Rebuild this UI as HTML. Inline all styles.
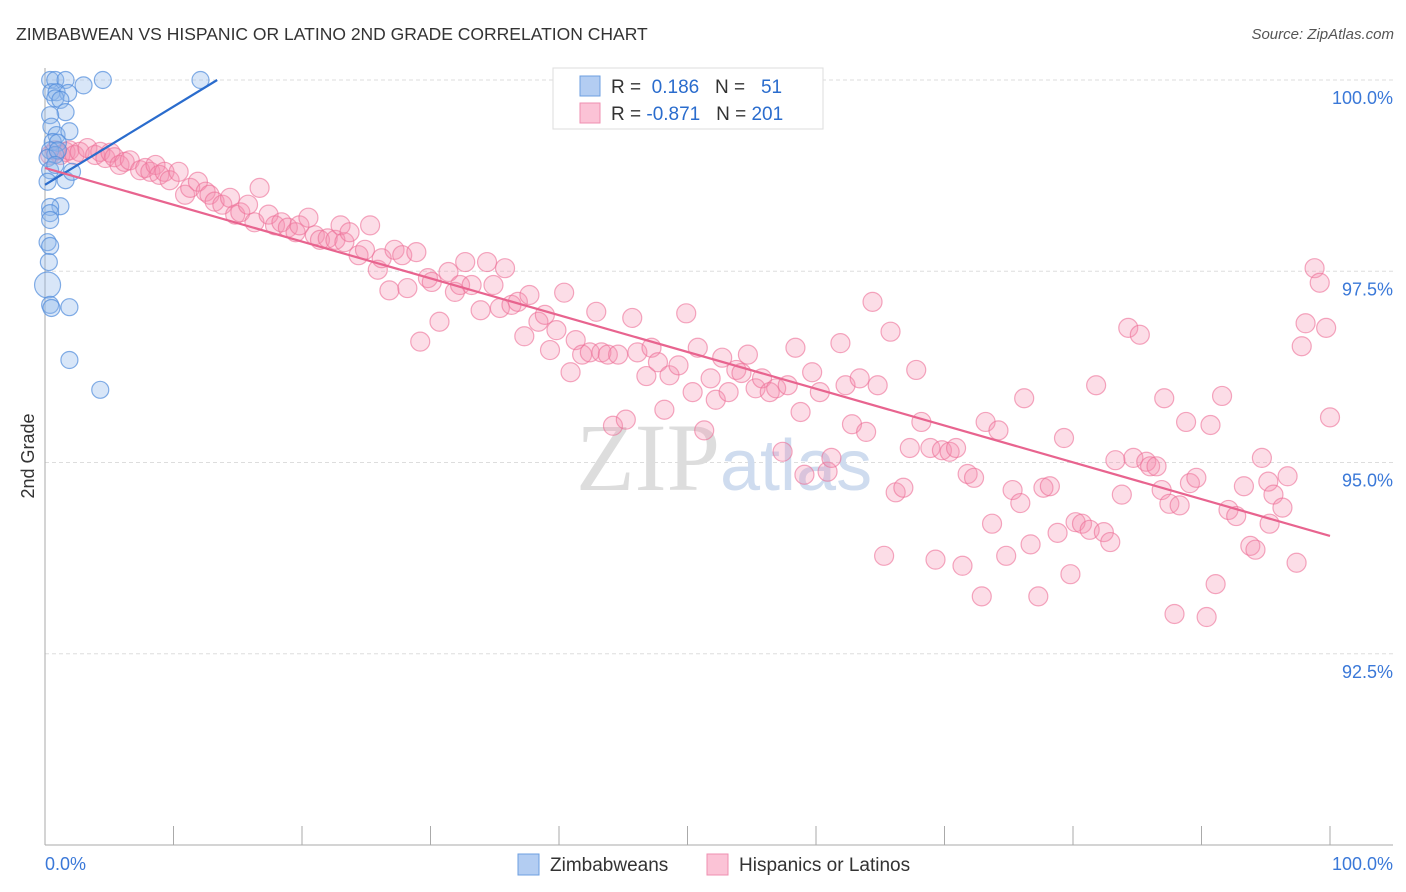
<!DOCTYPE html>
<html><head><meta charset="utf-8"><style>
body{margin:0;background:#fff;font-family:"Liberation Sans",sans-serif;}
svg{display:block}
</style></head><body>
<svg id="chart" width="1406" height="892">
<text x="16" y="40" font-size="17.5" fill="#333">ZIMBABWEAN VS HISPANIC OR LATINO 2ND GRADE CORRELATION CHART</text>
<text x="1394" y="39" font-size="15" fill="#555" font-style="italic" text-anchor="end">Source: ZipAtlas.com</text>
<text x="34" y="456" font-size="18" fill="#333" text-anchor="middle" transform="rotate(-90 34 456)">2nd Grade</text>
<g id="grid"></g>
<text x="720" y="490" font-size="96" fill="#ddd" text-anchor="end" font-family="Liberation Serif">ZIP</text>
<text x="720" y="490" font-size="72" fill="#cfdcef">atlas</text>
<g id="pts"></g>
<g id="lines"></g>
<g>
<rect x="553" y="68" width="270" height="61" fill="#fff" stroke="#ddd"/>
<rect x="580" y="76" width="20" height="20" fill="#b3cdf2" stroke="#6d9fe0"/>
<rect x="580" y="103" width="20" height="20" fill="#fbc3d6" stroke="#ef8fb0"/>
<text x="611" y="93" font-size="19" fill="#333">R = <tspan fill="#2a6ccd">&#160;0.186</tspan>&#160;&#160;&#160;N = <tspan fill="#2a6ccd">&#160;&#160;51</tspan></text>
<text x="611" y="120" font-size="19" fill="#333">R = <tspan fill="#2a6ccd">-0.871</tspan>&#160;&#160;&#160;N = <tspan fill="#2a6ccd">201</tspan></text>
</g>
<g>
<rect x="518" y="854" width="21" height="21" fill="#b3cdf2" stroke="#6d9fe0"/>
<text x="550" y="871" font-size="19" fill="#333">Zimbabweans</text>
<rect x="707" y="854" width="21" height="21" fill="#fbc3d6" stroke="#ef8fb0"/>
<text x="739" y="871" font-size="19" fill="#333">Hispanics or Latinos</text>
</g>
</svg>
<script>
const yTicks=[100,97.5,95,92.5];
const yTickLabels=["100.0%","97.5%","95.0%","92.5%"];
const xTickLabels=["0.0%","100.0%"];
const blueX=[0.4,0.8,1.6,3.0,4.5,12.1,0.5,0.9,1.8,0.8,1.2,1.6,0.4,0.5,0.9,1.9,0.6,1.0,0.4,0.8,0.2,0.4,1.0,1.6,2.1,0.8,0.2,1.2,0.4,0.4,0.4,0.2,0.4,0.3,0.2,0.4,0.5,1.9,1.9,4.3];
const blueY=[100,100,100,99.93,100,100,99.84,99.84,99.83,99.76,99.74,99.58,99.54,99.39,99.28,99.33,99.19,99.18,99.08,99.02,98.98,98.82,99.08,98.69,98.80,98.89,98.67,98.35,98.34,98.26,98.17,97.88,97.83,97.62,97.32,97.06,97.02,97.03,96.34,95.95];
const pinkX=[0.4,0.8,1.2,1.6,1.9,2.3,2.7,3.3,3.9,4.3,4.7,5.1,5.4,5.8,6.2,6.6,7.4,7.8,8.2,8.6,8.9,9.3,9.7,10.4,10.9,11.3,11.9,12.5,12.8,13.2,13.8,14.4,14.8,15.2,15.8,16.3,16.7,17.4,17.9,18.4,18.9,19.5,19.8,20.5,21.0,21.4,22.0,22.6,23.0,23.3,23.7,24.4,24.9,25.3,25.9,26.2,26.8,27.2,27.8,28.2,28.9,29.2,29.8,30.1,30.7,31.4,31.9,32.3,32.7,33.2,33.9,34.4,34.9,35.4,35.8,36.3,36.8,37.3,37.7,38.4,38.9,39.3,39.8,40.4,40.9,41.3,41.8,42.4,42.9,43.3,43.8,44.2,44.6,45.2,45.7,46.1,46.8,47.2,47.7,48.2,48.6,49.3,49.9,50.4,50.8,51.3,51.8,52.2,52.7,53.2,53.8,54.2,54.7,55.3,55.8,56.4,56.9,57.4,57.8,58.4,58.8,59.1,59.7,60.3,60.9,61.2,61.9,62.3,62.8,63.4,63.9,64.4,64.8,65.3,65.8,66.2,66.8,67.3,67.8,68.2,68.9,69.3,69.8,70.4,70.9,71.4,71.8,72.3,72.9,73.2,73.7,74.2,74.8,75.3,75.9,76.2,76.7,77.3,77.7,78.2,78.8,79.3,79.8,80.2,80.7,81.3,81.8,82.4,82.9,83.3,83.8,84.3,84.7,85.2,85.7,86.0,86.5,86.9,87.1,87.5,87.9,88.3,88.8,89.1,89.6,90.4,90.7,91.1,91.6,92.1,92.7,93.3,93.8,94.2,94.7,95.2,95.6,96.3,96.7,97.4,97.8,98.1,98.8,99.2,99.7,100,95.3];
const pinkY=[99.02,99.08,99.02,99.06,99.08,99.02,99.06,99.11,99.02,99.06,98.98,99.05,98.99,98.89,98.93,98.95,98.82,98.85,98.80,98.89,98.76,98.80,98.69,98.80,98.50,98.59,98.67,98.54,98.50,98.41,98.37,98.46,98.24,98.27,98.37,98.14,98.59,98.24,98.10,98.14,98.07,98.01,98.10,98.20,97.97,97.91,97.93,97.91,98.10,97.88,98.01,97.71,97.78,98.10,97.52,97.67,97.25,97.78,97.71,97.28,97.75,96.58,97.41,97.36,96.84,97.49,97.23,97.32,97.62,97.32,96.99,97.62,97.32,97.02,97.54,97.06,97.10,96.65,97.19,96.84,96.93,96.47,96.73,97.22,96.18,96.60,96.41,96.44,96.97,96.44,96.41,95.48,96.41,95.56,96.89,96.44,96.13,96.50,96.31,95.69,96.14,96.27,96.95,95.92,96.50,95.42,96.10,95.82,96.37,95.92,96.21,96.17,96.41,95.97,96.10,95.92,95.97,95.14,96.01,96.50,95.66,94.84,96.18,95.92,94.88,95.06,96.56,96.01,95.50,96.10,95.40,97.10,96.01,93.78,96.71,94.61,94.67,95.19,96.21,95.53,95.19,93.73,95.16,95.14,95.19,93.65,94.85,94.80,93.25,95.53,94.20,95.42,93.78,94.64,94.47,95.84,93.93,93.25,94.67,94.69,94.08,95.32,93.54,94.22,94.20,94.12,96.01,94.09,93.96,95.03,94.58,96.76,95.06,96.67,95.01,94.95,94.95,94.64,95.84,94.46,93.02,94.44,95.53,94.73,94.80,92.98,95.49,93.41,95.87,94.38,94.30,94.69,93.91,93.86,95.06,94.75,94.58,94.41,94.82,93.69,96.52,96.82,97.54,97.35,96.76,95.59,94.20];
const blueTrend=[[0,98.63],[13.4,100]];
const pinkTrend=[[0,98.85],[100,94.04]];
const NS="http://www.w3.org/2000/svg";
const X0=45,X1=1330,YTOP=80,PXPER=76.5;
function sx(v){return X0+(X1-X0)*v/100;}
function sy(v){return YTOP+(100-v)*PXPER;}
function mk(tag,attrs,parent){const e=document.createElementNS(NS,tag);for(const k in attrs)e.setAttribute(k,attrs[k]);parent.appendChild(e);return e;}
const grid=document.getElementById('grid');
yTicks.forEach((t,i)=>{
 const l=mk('line',{x1:X0,x2:1393,y1:sy(t),y2:sy(t),stroke:'#ddd','stroke-dasharray':'4 3'},grid);
 
 
 const tx=mk('text',{x:1393,y:sy(t)+24,'font-size':18,fill:'#3a78d8','text-anchor':'end'},grid);
 tx.textContent=yTickLabels[i];
 
 
});
const ax=mk('line',{x1:X0,x2:1393,y1:845,y2:845,stroke:'#aaa'},grid);


const ay=mk('line',{x1:X0,x2:X0,y1:68,y2:845,stroke:'#aaa'},grid);


for(let i=0;i<=10;i++){
 const t=mk('line',{x1:sx(i*10),x2:sx(i*10),y1:826,y2:845,stroke:'#aaa'},grid);
 
 
}
[[0,'start'],[100,'end']].forEach((p,i)=>{
 const tx=mk('text',{x:i?1393:45,y:870,'font-size':18,fill:'#3a78d8','text-anchor':p[1]},grid);
 tx.textContent=xTickLabels[i];
 
 
});
const pts=document.getElementById('pts');
pinkX.forEach((x,i)=>{
 const c=mk('circle',{cx:sx(x),cy:sy(pinkY[i]),r:9.5,fill:'rgba(244,143,177,0.3)',stroke:'rgba(236,110,150,0.6)','stroke-width':1.2},pts);
 
 
});
blueX.forEach((x,i)=>{
 const c=mk('circle',{cx:sx(x),cy:sy(blueY[i]),r:(i==34?13:8.5),fill:'rgba(144,184,236,0.35)',stroke:'rgba(80,140,220,0.7)','stroke-width':1.2},pts);
 
 
});
const lines=document.getElementById('lines');
const bl=mk('line',{x1:sx(blueTrend[0][0]),y1:sy(blueTrend[0][1]),x2:sx(blueTrend[1][0]),y2:sy(blueTrend[1][1]),stroke:'#2a6ccd','stroke-width':2.2},lines);


const pl=mk('line',{x1:sx(pinkTrend[0][0]),y1:sy(pinkTrend[0][1]),x2:sx(pinkTrend[1][0]),y2:sy(pinkTrend[1][1]),stroke:'#e8648f','stroke-width':2.2},lines);


</script>
</body></html>
